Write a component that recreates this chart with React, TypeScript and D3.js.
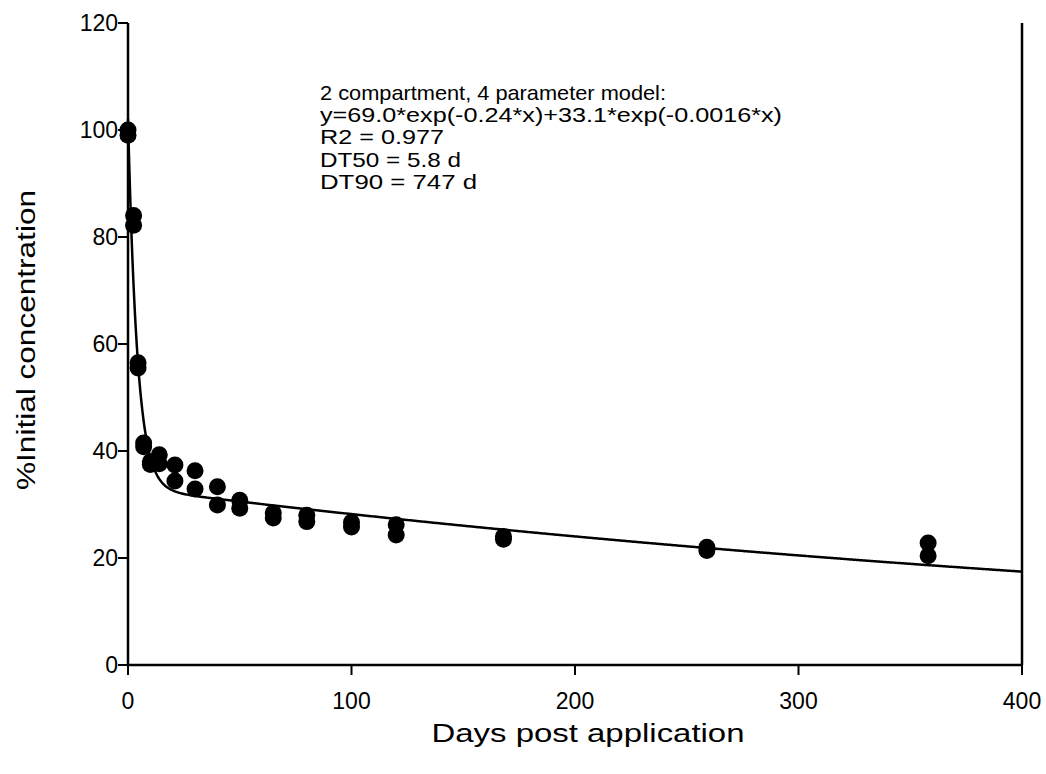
import React from "react";
import * as d3 from "d3";

// Sampling days and the two replicate measurements (% of initial concentration)
const days = [0, 2.5, 4.5, 7, 10, 14, 21, 30, 40, 50, 65, 80, 100, 120, 168, 259, 358];
const rep1 = [100, 84, 56.5, 41.5, 38, 39.3, 37.4, 36.3, 33.3, 30.8, 28.4, 28, 26.7, 26.2, 24, 22, 22.8];
const rep2 = [99, 82.2, 55.5, 40.8, 37.5, 37.6, 34.4, 32.9, 29.9, 29.3, 27.5, 26.8, 25.8, 24.3, 23.5, 21.4, 20.4];

// Fitted 2-compartment model coefficients (from the annotation)
const modelA = [69.0, 33.1];
const modelK = [0.24, 0.0016];

const xTicks = [0, 100, 200, 300, 400];
const yTicks = [0, 20, 40, 60, 80, 100, 120];

const annotation = [
  "2 compartment, 4 parameter model:",
  "y=69.0*exp(-0.24*x)+33.1*exp(-0.0016*x)",
  "R2 = 0.977",
  "DT50 = 5.8 d",
  "DT90 = 747 d",
];
const annotationWidths = [346, 462, 124, 141, 157];

const W = 1046;
const H = 774;
const FONT = "'Liberation Sans', Arial, Helvetica, sans-serif";

export default function App() {
  const x = d3.scaleLinear().domain([0, 400]).range([128, 1022]);
  const y = d3.scaleLinear().domain([0, 120]).range([665, 23]);

  const curveX = d3.range(0, 400.5, 0.5);
  const model = (t: number) =>
    modelA[0] * Math.exp(-modelK[0] * t) + modelA[1] * Math.exp(-modelK[1] * t);
  const line = d3
    .line<number>()
    .x((t) => x(t))
    .y((t) => y(model(t)));

  const points: { d: number; v: number }[] = [];
  days.forEach((d, i) => {
    points.push({ d, v: rep1[i] });
    points.push({ d, v: rep2[i] });
  });

  const [x0, x1] = x.range();
  const [y0, y1] = y.range();

  return (
    <svg
      width={W}
      height={H}
      style={{ position: "absolute", left: 0, top: 0, background: "#fff" }}
      fontFamily={FONT}
    >
      <rect x={0} y={0} width={W} height={H} fill="#fff" />
      {/* axes */}
      <line x1={x0} x2={x0} y1={y1} y2={y0} stroke="#000" strokeWidth={2.5} />
      <line x1={x0} x2={x1} y1={y0} y2={y0} stroke="#000" strokeWidth={2.5} />
      <line x1={x1} x2={x1} y1={y1} y2={y0} stroke="#000" strokeWidth={2.5} />
      {yTicks.map((t) => (
        <g key={"y" + t}>
          <line x1={x0 - 10} x2={x0} y1={y(t)} y2={y(t)} stroke="#000" strokeWidth={2} />
          <text
            x={118}
            y={y(t)}
            dy="0.35em"
            textAnchor="end"
            fontSize={23}
            fill="#000"
          >
            {t}
          </text>
        </g>
      ))}
      {xTicks.map((t) => (
        <g key={"x" + t}>
          <line x1={x(t)} x2={x(t)} y1={y0} y2={y0 + 10} stroke="#000" strokeWidth={2} />
          <text x={x(t)} y={709} textAnchor="middle" fontSize={23} fill="#000">
            {t}
          </text>
        </g>
      ))}
      {/* axis titles */}
      <text
        x={588}
        y={742}
        textAnchor="middle"
        fontSize={25}
        textLength={313}
        lengthAdjust="spacingAndGlyphs"
        fill="#000"
      >
        Days post application
      </text>
      <text
        transform={`translate(35,340) rotate(-90)`}
        textAnchor="middle"
        fontSize={25}
        textLength={300}
        lengthAdjust="spacingAndGlyphs"
        fill="#000"
      >
        %Initial concentration
      </text>
      {/* fitted curve */}
      <path d={line(curveX) || ""} fill="none" stroke="#000" strokeWidth={2.5} />
      {/* data points */}
      {points.map((p, i) => (
        <circle key={i} cx={x(p.d)} cy={y(p.v)} r={8.5} fill="#000" />
      ))}
      {/* annotation */}
      {annotation.map((s, i) => (
        <text
          key={i}
          x={320}
          y={100 + i * 22.2}
          fontSize={19.8}
          textLength={annotationWidths[i]}
          lengthAdjust="spacingAndGlyphs"
          fill="#000"
        >
          {s}
        </text>
      ))}
    </svg>
  );
}
